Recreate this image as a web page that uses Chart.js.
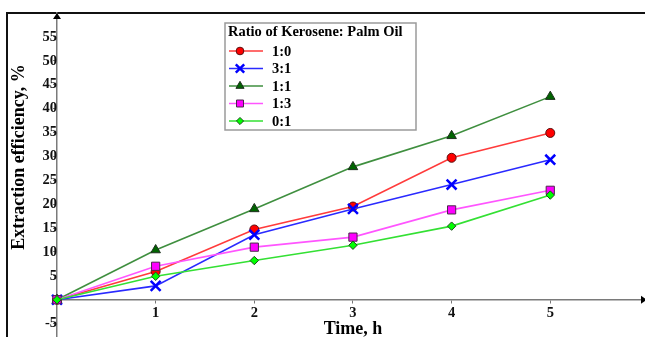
<!DOCTYPE html>
<html><head><meta charset="utf-8">
<script src="https://cdn.jsdelivr.net/npm/chart.js@4/dist/chart.umd.min.js"></script>
<style>
html,body{margin:0;padding:0;background:#fff;overflow:hidden;}
#wrap{position:absolute;left:0;top:0;width:645px;height:337px;}
</style></head>
<body><div id="wrap"><canvas id="c" width="645" height="337"></canvas></div>
<script>
const hours = [0, 1, 2, 3, 4, 5];
const ratio10 = [0, 5.9, 14.7, 19.5, 29.7, 34.9];
const ratio31 = [0, 2.9, 13.6, 19.0, 24.1, 29.3];
const ratio11 = [0, 10.4, 19.0, 27.8, 34.3, 42.5];
const ratio13 = [0, 7.0, 11.0, 13.1, 18.8, 22.9];
const ratio01 = [0, 4.9, 8.2, 11.4, 15.4, 21.9];
const seriesNames = ['1:0', '3:1', '1:1', '1:3', '0:1'];
const xTickValues = [1, 2, 3, 4, 5];
const yTickValues = [-5, 5, 10, 15, 20, 25, 30, 35, 40, 45, 50, 55];
const legendTitle = 'Ratio of Kerosene: Palm Oil';
const xTitle = 'Time, h';
const yTitle = 'Extraction efficiency, %';

const styles = [
  {line:'#ff3b3b', fill:'#ff0000', border:'#5a1010', ps:'circle', r:4.5, bw:1},
  {line:'#2a2aff', fill:'#0000ff', border:'#0000ff', ps:'crossRot', r:7, bw:2.5},
  {line:'#3f8f3f', fill:'#006400', border:'#1e2e1e', ps:'triangle', r:5.5, bw:1},
  {line:'#ff55ff', fill:'#ff00ff', border:'#4a2a4a', ps:'rect', r:5.8, bw:1},
  {line:'#33e033', fill:'#00ff00', border:'#1f4a1f', ps:'rectRot', r:4.2, bw:1}
];
const allSeries = [ratio10, ratio31, ratio11, ratio13, ratio01];

const datasets = allSeries.map((vals, i) => ({
  label: seriesNames[i],
  data: hours.map((h, j) => ({x: h, y: vals[j]})),
  borderColor: styles[i].line,
  borderWidth: 1.6,
  backgroundColor: styles[i].fill,
  pointBackgroundColor: styles[i].fill,
  pointBorderColor: styles[i].border,
  pointBorderWidth: styles[i].bw,
  pointStyle: styles[i].ps,
  pointRadius: styles[i].r,
  pointHoverRadius: styles[i].r,
  tension: 0,
  clip: false,
  order: 4 - i
}));

const X_MIN = 0, X_MAX = 5.94, Y_MIN = -7.8, Y_MAX = 60;
const noPad = s => { s.paddingLeft = 0; s.paddingRight = 0; s.paddingTop = 0; s.paddingBottom = 0; };

const decor = {
  id: 'decor',
  beforeDraw(chart) {
    const ctx = chart.ctx;
    ctx.save();
    ctx.fillStyle = '#fff';
    ctx.fillRect(0, 0, chart.width, chart.height);
    ctx.strokeStyle = '#111';
    ctx.lineWidth = 2;
    ctx.strokeRect(7, 13, 700, 400);
    ctx.restore();
  },
  afterDraw(chart) {
    const ctx = chart.ctx;
    const xs = chart.scales.x, ys = chart.scales.y;
    const x0 = xs.getPixelForValue(0), y0 = ys.getPixelForValue(0);
    const yTop = ys.getPixelForValue(Y_MAX), xRight = xs.getPixelForValue(X_MAX);
    ctx.save();
    ctx.fillStyle = '#000';
    ctx.beginPath();
    ctx.moveTo(x0, yTop);
    ctx.lineTo(x0 - 4, yTop + 6);
    ctx.lineTo(x0 + 4, yTop + 6);
    ctx.closePath(); ctx.fill();
    ctx.beginPath();
    ctx.moveTo(xRight + 4, y0);
    ctx.lineTo(xRight - 2, y0 - 4);
    ctx.lineTo(xRight - 2, y0 + 4);
    ctx.closePath(); ctx.fill();
    ctx.fillStyle = '#000';
    ctx.font = 'bold 18px "Liberation Serif"';
    ctx.textAlign = 'center';
    ctx.textBaseline = 'middle';
    ctx.fillText(xTitle, 353, 329);
    ctx.translate(19, 157);
    ctx.rotate(-Math.PI / 2);
    ctx.fillText(yTitle, 0, 0);
    ctx.restore();
    ctx.save();
    const L = 225, T = 23, W = 191, H = 107;
    ctx.fillStyle = '#fff';
    ctx.fillRect(L, T, W, H);
    ctx.strokeStyle = '#9a9a9a';
    ctx.lineWidth = 1.5;
    ctx.strokeRect(L, T, W, H);
    ctx.fillStyle = '#000';
    ctx.font = 'bold 14.5px "Liberation Serif"';
    ctx.textBaseline = 'middle';
    ctx.textAlign = 'left';
    ctx.fillText(legendTitle, 228, 32);
    chart.data.datasets.forEach((ds, i) => {
      const y = 51 + i * 17.5;
      ctx.strokeStyle = ds.borderColor;
      ctx.lineWidth = 1.6;
      ctx.beginPath(); ctx.moveTo(229, y); ctx.lineTo(263, y); ctx.stroke();
      ctx.fillStyle = ds.pointBackgroundColor;
      ctx.strokeStyle = ds.pointBorderColor;
      ctx.lineWidth = ds.pointBorderWidth;
      Chart.helpers.drawPoint(ctx, {pointStyle: ds.pointStyle, radius: ds.pointRadius * 0.85, rotation: 0, borderWidth: ds.pointBorderWidth}, 240, y);
      ctx.fillStyle = '#000';
      ctx.font = 'bold 14.5px "Liberation Serif"';
      ctx.fillText(ds.label, 272, y + 1);
    });
    ctx.restore();
  }
};

const tickFont = {family: 'Liberation Serif', size: 14.5, weight: 'bold'};
new Chart(document.getElementById('c'), {
  type: 'line',
  data: {datasets},
  options: {
    responsive: false,
    animation: false,
    events: [],
    layout: {autoPadding: false, padding: {left: 57, top: 13, right: 2, bottom: 0}},
    plugins: {legend: {display: false}, tooltip: {enabled: false}},
    scales: {
      x: {
        type: 'linear',
        position: {y: 0},
        min: X_MIN, max: X_MAX,
        afterBuildTicks: s => { s.ticks = xTickValues.map(v => ({value: v})); },
        afterFit: noPad,
        grid: {display: true, drawOnChartArea: false, drawTicks: true, tickLength: 3, color: '#777'},
        border: {display: true, color: '#7a7a7a', width: 1.5},
        ticks: {color: '#111', font: tickFont, padding: 2, maxRotation: 0}
      },
      y: {
        type: 'linear',
        position: {x: 0},
        min: Y_MIN, max: Y_MAX,
        afterBuildTicks: s => { s.ticks = yTickValues.map(v => ({value: v})); },
        afterFit: noPad,
        grid: {display: true, drawOnChartArea: false, drawTicks: true, tickLength: 3, color: '#777'},
        border: {display: true, color: '#7a7a7a', width: 1.5},
        ticks: {color: '#111', font: tickFont, padding: 2}
      }
    }
  },
  plugins: [decor]
});
</script></body></html>
